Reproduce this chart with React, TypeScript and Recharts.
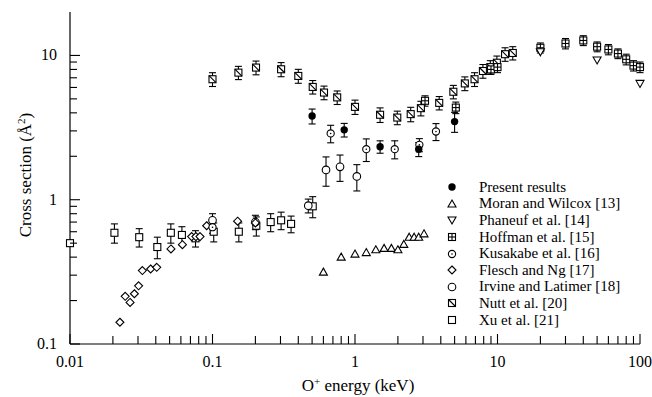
import React from 'react';
import { ScatterChart, Scatter, XAxis, YAxis, ErrorBar, Legend, Label } from 'recharts';

// each point: [energy (keV), cross section (Å²), error]
const presentResults = [
  [0.5, 3.8, 0.45], [0.84, 3.05, 0.33], [1.5, 2.33, 0.23], [2.8, 2.24, 0.25], [5.0, 3.48, 0.55],
];
const moranWilcox = [
  [0.6, 0.315], [0.8, 0.4], [1.0, 0.42], [1.2, 0.43], [1.4, 0.45], [1.6, 0.46], [1.8, 0.46],
  [2.0, 0.45], [2.2, 0.49], [2.4, 0.55], [2.6, 0.55], [2.8, 0.55], [3.05, 0.58],
];
const phaneuf = [[20, 10.6], [50, 9.3], [100, 6.4]];
const hoffman = [
  [3.1, 4.85, 0.4], [5.1, 4.35, 0.4], [9, 8.0, 0.6], [10, 8.3, 0.7], [20, 11.3, 0.9],
  [30, 12.1, 1.0], [40, 12.7, 1.0], [50, 11.5, 0.9], [60, 11.0, 0.9], [70, 10.3, 0.8],
  [80, 9.4, 0.8], [90, 8.5, 0.7], [100, 8.3, 0.7],
];
const kusakabe = [
  [0.1, 0.645, 0.06], [0.675, 2.88, 0.4], [1.2, 2.24, 0.4], [1.9, 2.24, 0.32], [2.83, 2.4, 0.25], [3.7, 2.97, 0.4],
];
const fleschNg = [
  [0.0224, 0.1415], [0.0244, 0.214], [0.0264, 0.194], [0.0283, 0.223], [0.0303, 0.253],
  [0.0322, 0.323], [0.0368, 0.331], [0.0406, 0.34], [0.0511, 0.456], [0.0615, 0.488],
  [0.0714, 0.555], [0.0765, 0.555], [0.0817, 0.555], [0.091, 0.66], [0.15, 0.71], [0.2, 0.69],
];
const irvineLatimer = [
  [0.1, 0.72, 0.08], [0.2, 0.7, 0.08], [0.47, 0.91, 0.1], [0.626, 1.61, 0.37], [0.785, 1.69, 0.35], [1.03, 1.45, 0.3],
];
const nutt = [
  [0.1, 6.84, 0.75], [0.152, 7.6, 0.8], [0.202, 8.24, 0.9], [0.303, 8.02, 0.9], [0.4, 7.21, 0.8],
  [0.505, 6.05, 0.65], [0.606, 5.53, 0.6], [0.75, 5.12, 0.55], [1.0, 4.4, 0.5], [1.5, 3.88, 0.45],
  [1.98, 3.71, 0.4], [2.46, 3.92, 0.45], [2.9, 4.31, 0.5], [3.9, 4.69, 0.5], [4.9, 5.6, 0.6],
  [5.9, 6.4, 0.7], [6.9, 6.84, 0.75], [7.9, 7.8, 0.85], [8.9, 8.3, 0.9], [9.9, 8.9, 1.0],
  [11.3, 10.2, 1.1], [12.8, 10.4, 1.1],
];
const xu = [
  [0.01, 0.5, 0], [0.0205, 0.59, 0.09], [0.0306, 0.55, 0.08], [0.041, 0.47, 0.08], [0.051, 0.59, 0.09],
  [0.061, 0.57, 0.08], [0.076, 0.54, 0.07], [0.102, 0.6, 0.09], [0.153, 0.6, 0.09], [0.203, 0.66, 0.1],
  [0.256, 0.7, 0.1], [0.303, 0.72, 0.1], [0.356, 0.68, 0.09], [0.505, 0.9, 0.15],
];

const mantissas = [1, 2, 3, 4, 5, 6, 7, 8, 9];
const xDecades = [0.01, 0.1, 1, 10];
const yDecades = [0.1, 1];
const xTicks = [...xDecades.flatMap(d => mantissas.map(m => +(m * d).toPrecision(3))), 100];
const yTicks = [...yDecades.flatMap(d => mantissas.map(m => +(m * d).toPrecision(3))), 10];

const FONT = "'Liberation Serif', serif";

type Kind = 'dot' | 'up' | 'down' | 'boxPlus' | 'dotCircle' | 'diamond' | 'circle' | 'boxSlash' | 'box';

const series: { name: string; data: number[][]; kind: Kind; errors: boolean }[] = [
  { name: 'Present results', data: presentResults, kind: 'dot', errors: true },
  { name: 'Moran and Wilcox [13]', data: moranWilcox, kind: 'up', errors: false },
  { name: 'Phaneuf et al. [14]', data: phaneuf, kind: 'down', errors: false },
  { name: 'Hoffman et al. [15]', data: hoffman, kind: 'boxPlus', errors: true },
  { name: 'Kusakabe et al. [16]', data: kusakabe, kind: 'dotCircle', errors: true },
  { name: 'Flesch and Ng [17]', data: fleschNg, kind: 'diamond', errors: false },
  { name: 'Irvine and Latimer [18]', data: irvineLatimer, kind: 'circle', errors: true },
  { name: 'Nutt et al. [20]', data: nutt, kind: 'boxSlash', errors: true },
  { name: 'Xu et al. [21]', data: xu, kind: 'box', errors: true },
];

// paint order, back to front
const drawOrder = [8, 7, 6, 5, 4, 3, 2, 1, 0];

const Marker = ({ kind, cx, cy }: { kind: Kind; cx: number; cy: number }) => {
  const s = 3.5;
  const st = { fill: '#fff', stroke: '#000', strokeWidth: 1.1 };
  switch (kind) {
    case 'dot':
      return <circle cx={cx} cy={cy} r={3.7} fill="#000" />;
    case 'up':
      return <polygon points={`${cx},${cy - 4} ${cx + 4},${cy + 3} ${cx - 4},${cy + 3}`} {...st} />;
    case 'down':
      return <polygon points={`${cx},${cy + 4} ${cx + 4},${cy - 3} ${cx - 4},${cy - 3}`} {...st} />;
    case 'boxPlus':
      return (
        <g {...st}>
          <rect x={cx - s} y={cy - s} width={2 * s} height={2 * s} />
          <line x1={cx - s} x2={cx + s} y1={cy} y2={cy} />
          <line x1={cx} x2={cx} y1={cy - s} y2={cy + s} />
        </g>
      );
    case 'dotCircle':
      return (
        <g>
          <circle cx={cx} cy={cy} r={3.6} {...st} />
          <circle cx={cx} cy={cy} r={0.8} fill="#000" />
        </g>
      );
    case 'diamond':
      return <polygon points={`${cx},${cy - 4} ${cx + 4},${cy} ${cx},${cy + 4} ${cx - 4},${cy}`} {...st} />;
    case 'circle':
      return <circle cx={cx} cy={cy} r={3.8} {...st} />;
    case 'boxSlash':
      return (
        <g {...st}>
          <rect x={cx - s} y={cy - s} width={2 * s} height={2 * s} />
          <line x1={cx - s} y1={cy - s} x2={cx + s} y2={cy + s} />
        </g>
      );
    default:
      return <rect x={cx - s} y={cy - s} width={2 * s} height={2 * s} {...st} />;
  }
};

const isMajor = (v: number) => {
  const l = Math.log10(v);
  return Math.abs(l - Math.round(l)) < 1e-6;
};

const BottomTick = (props: any) => {
  const { x, y, payload } = props;
  const major = isMajor(payload.value);
  return (
    <g>
      <line x1={x} x2={x} y1={y} y2={y - (major ? 10 : 8)} stroke="#000" strokeWidth={1.1} />
      {major && (
        <text x={x} y={y + 23} textAnchor="middle" style={{ fontFamily: FONT }} fontSize={16} fill="#000">
          {String(payload.value)}
        </text>
      )}
    </g>
  );
};

const TopTick = (props: any) => {
  const { x, y, payload } = props;
  const major = isMajor(payload.value);
  return <line x1={x} x2={x} y1={y} y2={y + (major ? 10 : 8)} stroke="#000" strokeWidth={1.1} />;
};

const LeftTick = (props: any) => {
  const { x, y, payload } = props;
  const major = isMajor(payload.value);
  return (
    <g>
      <line x1={x} x2={x + (major ? 10 : 7)} y1={y} y2={y} stroke="#000" strokeWidth={1.1} />
      {major && (
        <text x={x - 13} y={y + 5} textAnchor="end" style={{ fontFamily: FONT }} fontSize={16} fill="#000">
          {String(payload.value)}
        </text>
      )}
    </g>
  );
};

const RightTick = (props: any) => {
  const { x, y, payload } = props;
  const major = isMajor(payload.value);
  return <line x1={x} x2={x - (major ? 10 : 7)} y1={y} y2={y} stroke="#000" strokeWidth={1.1} />;
};

const LegendBox = () => (
  <div style={{ fontFamily: FONT, fontSize: 15, color: '#000' }}>
    {series.map(s => (
      <div key={s.name} style={{ display: 'flex', alignItems: 'center', height: 16.6, whiteSpace: 'nowrap' }}>
        <svg width={24} height={16} style={{ display: 'block' }}>
          <Marker kind={s.kind} cx={12} cy={8} />
        </svg>
        <span style={{ marginLeft: 15 }}>{s.name}</span>
      </div>
    ))}
  </div>
);

const axisLine = { stroke: '#000', strokeWidth: 1.2 };

export default function App() {
  return (
    <div style={{ width: 652, height: 397, background: '#fff', fontFamily: FONT }}>
      <style>{'body{margin:0}'}</style>
      <ScatterChart width={652} height={397} margin={{ top: 12, right: 12, bottom: 0, left: 0 }}>
        <XAxis
          xAxisId={0}
          type="number"
          dataKey="x"
          scale="log"
          domain={[0.01, 100]}
          ticks={xTicks}
          interval={0}
          tick={BottomTick}
          tickLine={false}
          tickSize={0}
          tickMargin={0}
          axisLine={axisLine}
          height={53}
        >
          <Label
            content={() => (
              <text x={358} y={385} dy="0.35em" textAnchor="middle" style={{ fontFamily: FONT }} fontSize={17} fill="#000">
                O<tspan dy={-6} fontSize={11}>+</tspan>
                <tspan dy={6}> energy (keV)</tspan>
              </text>
            )}
          />
        </XAxis>
        <XAxis
          xAxisId="top"
          orientation="top"
          type="number"
          scale="log"
          domain={[0.01, 100]}
          allowDataOverflow
          ticks={xTicks}
          interval={0}
          tick={TopTick}
          tickLine={false}
          tickSize={0}
          tickMargin={0}
          axisLine={axisLine}
          height={0}
        />
        <YAxis
          yAxisId={0}
          type="number"
          dataKey="y"
          scale="log"
          domain={[0.1, 20]}
          ticks={yTicks}
          interval={0}
          tick={LeftTick}
          tickLine={false}
          tickSize={0}
          tickMargin={0}
          axisLine={axisLine}
          width={70}
        >
          <Label
            content={() => (
              <text
                transform="translate(25,175) rotate(-90)"
                dy="0.35em"
                textAnchor="middle"
                style={{ fontFamily: FONT }}
                fontSize={17}
                fill="#000"
              >
                Cross section (Å<tspan dy={-6} fontSize={11}>2</tspan>
                <tspan dy={6}>)</tspan>
              </text>
            )}
          />
        </YAxis>
        <YAxis
          yAxisId="right"
          orientation="right"
          type="number"
          scale="log"
          domain={[0.1, 20]}
          allowDataOverflow
          ticks={yTicks}
          interval={0}
          tick={RightTick}
          tickLine={false}
          tickSize={0}
          tickMargin={0}
          axisLine={axisLine}
          width={0}
        />
        {drawOrder.map(i => {
          const s = series[i];
          const data = s.data.map(([x, y, err]) => ({ x, y, err: err ?? 0 }));
          return (
            <Scatter
              key={s.name}
              name={s.name}
              data={data}
              xAxisId={0}
              yAxisId={0}
              isAnimationActive={false}
              shape={(p: any) => <Marker kind={s.kind} cx={p.cx} cy={p.cy} />}
            >
              {s.errors && (
                <ErrorBar dataKey="err" direction="y" width={3.5} stroke="#000" strokeWidth={1.1} />
              )}
            </Scatter>
          );
        })}
        <Legend
          layout="vertical"
          align="center"
          verticalAlign="middle"
          content={LegendBox}
          wrapperStyle={{ left: 440, top: 179, width: 200 }}
        />
      </ScatterChart>
    </div>
  );
}
